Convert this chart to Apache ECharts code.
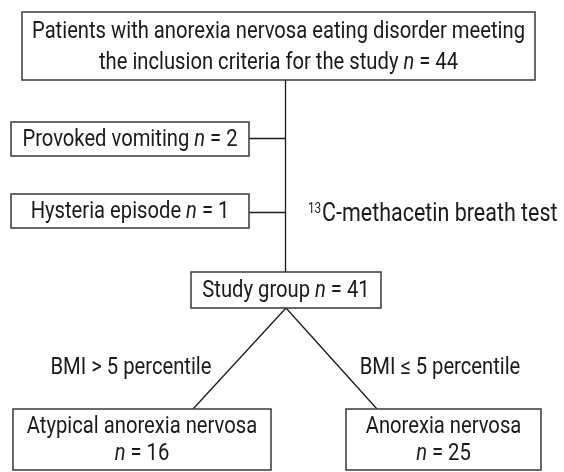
<!DOCTYPE html>
<html>
<head>
<meta charset="utf-8">
<script src="https://cdn.jsdelivr.net/npm/echarts@6/dist/echarts.min.js"></script>
<style>
  html, body { margin: 0; padding: 0; background: #fff; }
  #main { width: 564px; height: 472px; }
</style>
</head>
<body>
<div id="main"></div>
<script>
// flowchart content
var boxText = [
    'Patients with anorexia nervosa eating disorder meeting\nthe inclusion criteria for the study {i|n} = ',
    'Provoked vomiting {i|n} = ',
    'Hysteria episode {i|n} = ',
    'Study group {i|n} = ',
    'Atypical anorexia nervosa\n{i|n} = ',
    'Anorexia nervosa\n{i|n} = '
];
var boxCounts = [44, 2, 1, 41, 16, 25];
// box corners in chart units [x0, y0, x1, y1]
var boxRects = [
    [22, 12, 535, 80],
    [11, 122, 249, 156],
    [11, 194, 249, 228],
    [191, 272, 381, 308],
    [13, 409, 271, 470],
    [346, 409, 541, 470]
];
var linkPaths = [
    [[285.5, 80], [285.5, 272]],
    [[249, 138.5], [285.5, 138.5]],
    [[249, 212.5], [285.5, 212.5]],
    [[286, 308], [193, 409]],
    [[286, 308], [377, 409]]
];
var noteText = ['{s|13}C-methacetin breath test', 'BMI > 5 percentile', 'BMI \u2264 5 percentile'];
var notePos = [[308, 215], [131, 368], [440, 368]];
var noteAlign = ['left', 'center', 'center'];
var noteSize = [25.5, 24, 24];

var FONT = "Roboto, 'DejaVu Sans Condensed', sans-serif";
var INK = '#1c1a1a';
var FS = 24;

// squeeze the text horizontally, the original face is a condensed one
var ctx = document.createElement('canvas').getContext('2d');
ctx.font = FS + 'px Roboto';
var SX = 493 / ctx.measureText('Patients with anorexia nervosa eating disorder meeting').width;

var myChart = echarts.init(document.getElementById('main'));

var boxData = boxRects.map(function (r, i) {
    return r.concat([i]);
});

var option = {
    animation: false,
    grid: {left: 0, right: 0, top: 0, bottom: 0},
    xAxis: {type: 'value', min: 0, max: 564, show: false},
    yAxis: {type: 'value', min: 0, max: 472, inverse: true, show: false},
    series: [
        {
            type: 'lines',
            coordinateSystem: 'cartesian2d',
            polyline: true,
            silent: true,
            lineStyle: {color: INK, width: 1.3, opacity: 1},
            data: linkPaths.map(function (p) { return {coords: p}; }),
            z: 1
        },
        {
            type: 'custom',
            coordinateSystem: 'cartesian2d',
            silent: true,
            z: 2,
            data: boxData,
            renderItem: function (params, api) {
                var i = api.value(4);
                var p0 = api.coord([api.value(0), api.value(1)]);
                var p1 = api.coord([api.value(2), api.value(3)]);
                return {
                    type: 'group',
                    children: [
                        {
                            type: 'rect',
                            shape: {x: p0[0], y: p0[1], width: p1[0] - p0[0], height: p1[1] - p0[1]},
                            style: {fill: '#fff', stroke: '#3a3a3a', lineWidth: 1.5}
                        },
                        {
                            type: 'text',
                            x: (p0[0] + p1[0]) / 2,
                            y: (p0[1] + p1[1]) / 2 + 1,
                            scaleX: SX,
                            style: {
                                x: 0,
                                y: 0,
                                text: boxText[i] + boxCounts[i],
                                align: 'center',
                                verticalAlign: 'middle',
                                fill: INK,
                                fontSize: FS,
                                fontFamily: FONT,
                                lineHeight: i === 0 ? 31 : 27,
                                rich: {
                                    i: {fontStyle: 'italic', fontSize: FS, fontFamily: FONT, fill: INK}
                                }
                            }
                        }
                    ]
                };
            }
        },
        {
            type: 'custom',
            coordinateSystem: 'cartesian2d',
            silent: true,
            z: 3,
            data: notePos.map(function (p, i) { return [p[0], p[1], i]; }),
            renderItem: function (params, api) {
                var i = api.value(2);
                var pt = api.coord([api.value(0), api.value(1)]);
                return {
                    type: 'text',
                    x: pt[0],
                    y: pt[1],
                    scaleX: SX,
                    style: {
                        x: 0,
                        y: 0,
                        text: noteText[i],
                        align: noteAlign[i],
                        verticalAlign: 'middle',
                        fill: INK,
                        fontSize: noteSize[i],
                        fontFamily: FONT,
                        rich: {
                            s: {fontSize: 14, fontFamily: FONT, fill: INK, verticalAlign: 'top', lineHeight: 14, padding: [0, 1, 10, 0]}
                        }
                    }
                };
            }
        }
    ]
};
myChart.setOption(option);
</script>
</body>
</html>
